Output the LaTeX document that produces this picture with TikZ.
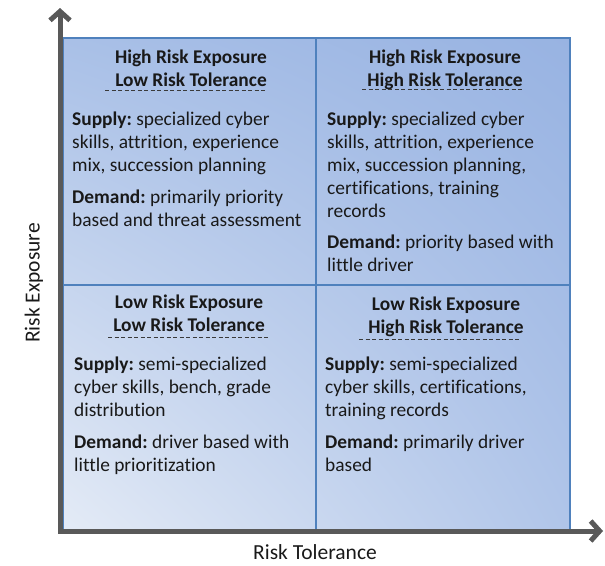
\documentclass[tikz,border=0pt]{standalone}
\usepackage{fontspec}
\setmainfont{Carlito}[Ligatures=NoCommon]
\usepackage{xcolor}
\usepackage{tikz}
\usetikzlibrary{arrows.meta,shadings}
\frenchspacing

\definecolor{axisgray}{HTML}{595959}
\definecolor{quadblue}{HTML}{4F81BD}
\definecolor{rulegray}{HTML}{3A3A3A}
\definecolor{shadell}{HTML}{E4EBF6}
\definecolor{shadeul}{HTML}{A9C0E7}
\definecolor{shadelr}{HTML}{B0C5E9}
\definecolor{shadeur}{HTML}{98B3E2}

\tikzset{
  every node/.style={font=\fontsize{19.4}{23}\selectfont, inner sep=0pt, text=black!90},
  axis/.style={draw=axisgray, line width=5pt, line join=miter,
    {Straight Barb[length=9pt,width=20pt]}-{Straight Barb[length=9pt,width=20pt]}},
  axislabel/.style={font=\fontsize{21.5}{25}\selectfont},
  quad/.style={draw=quadblue, line width=1.8pt},
  head/.style={font=\fontsize{19.4}{23}\selectfont\bfseries, align=center, anchor=base},
  body/.style={align=left, anchor=base west},
  rule/.style={draw=rulegray, line width=0.9pt, dash pattern=on 4pt off 2.5pt}
}

\begin{document}
\begin{tikzpicture}[x=1pt,y=-1pt]
        \useasboundingbox (0,0) rectangle (605,565);
        % quadrants
        \path[lower left=shadell, upper left=shadeul, lower right=shadelr, upper right=shadeur,
              shading=bilinear interpolation] (63,38) rectangle (570,530);
        \draw[quad] (63,38) rectangle (570,530);
        \draw[quad] (316,38) -- (316,530);
        \draw[quad] (63,285) -- (570,285);

        % axes
        \coordinate (ytip) at (60,8);
        \coordinate (o) at (60,531);
        \coordinate (xtip) at (603,531);
        \draw[axis] (ytip) -- (o) -- (xtip);
        \node[axislabel, rotate=90] (ylab) at (34,283) {Risk Exposure};
        \node[axislabel] (xlab) at (315,552) {Risk Tolerance};

        % high exposure, low tolerance (base = last line)
        \node[head] (hlhead) at (191,86) {High Risk Exposure\\Low Risk Tolerance};
        \draw[rule] (105,90) -- (267,90);
        \node[body] (hlbody) at (72,226) {\textbf{Supply:} specialized cyber\\skills, attrition, experience\\mix, succession planning\\[9pt]\textbf{Demand:} primarily priority\\based and threat assessment};

        % high exposure, high tolerance
        \node[head] (hhhead) at (445,86) {High Risk Exposure\\High Risk Tolerance};
        \draw[rule] (362,89) -- (523,89);
        \node[body] (hhbody) at (327,271) {\textbf{Supply:} specialized cyber\\skills, attrition, experience\\mix, succession planning,\\certifications, training\\records\\[8pt]\textbf{Demand:} priority based with\\little driver};

        % low exposure, low tolerance
        \node[head] (llhead) at (189,331) {Low Risk Exposure\\Low Risk Tolerance};
        \draw[rule] (108,337) -- (270,337);
        \node[body] (llbody) at (74,471) {\textbf{Supply:} semi-specialized\\cyber skills, bench, grade\\distribution\\[9pt]\textbf{Demand:} driver based with\\little prioritization};

        % low exposure, high tolerance
        \node[head] (lhhead) at (446,333) {Low Risk Exposure\\High Risk Tolerance};
        \draw[rule] (359,339) -- (520,339);
        \node[body] (lhbody) at (325,471) {\textbf{Supply:} semi-specialized\\cyber skills, certifications,\\training records\\[9pt]\textbf{Demand:} primarily driver\\based};
    \end{tikzpicture}
\end{document}
